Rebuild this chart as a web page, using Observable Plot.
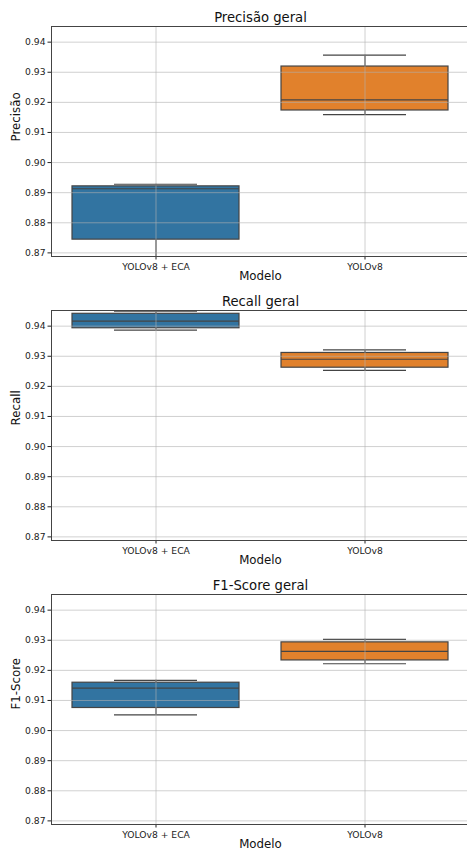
<!DOCTYPE html>
<html>
<head>
<meta charset="utf-8">
<script src="https://cdn.jsdelivr.net/npm/d3@7"></script>
<script src="https://cdn.jsdelivr.net/npm/@observablehq/plot@0.6"></script>
<style>
  html, body { margin: 0; padding: 0; background: white; overflow: hidden; }
  #chart { width: 467px; overflow: hidden; }
  svg { display: block; }
</style>
</head>
<body>
<div id="chart"></div>
<script>
const categories = ["YOLOv8 + ECA", "YOLOv8"];
const colors = ["#3274a1", "#e1812c"];
const yTicks = [0.87, 0.88, 0.89, 0.90, 0.91, 0.92, 0.93, 0.94];
const yDomain = [0.8688, 0.9452];

// [lower whisker, Q1, median, Q3, upper whisker] per model
const precisaoBox = [
  [0.8688, 0.8744, 0.8913, 0.8921, 0.8928],
  [0.9159, 0.9173, 0.9208, 0.9319, 0.9357]
];
const recallBox = [
  [0.9387, 0.9393, 0.9417, 0.9441, 0.9450],
  [0.9253, 0.9262, 0.9290, 0.9311, 0.9321]
];
const f1Box = [
  [0.9052, 0.9075, 0.9141, 0.9159, 0.9167],
  [0.9222, 0.9233, 0.9263, 0.9293, 0.9303]
];

const panels = [
  {title: "Precisão geral", ylabel: "Precisão", box: precisaoBox},
  {title: "Recall geral", ylabel: "Recall", box: recallBox},
  {title: "F1-Score geral", ylabel: "F1-Score", box: f1Box}
];

const edge = "#444444";

function panel({title, ylabel, box}) {
  const data = categories.map((c, i) => ({
    model: c, lo: box[i][0], q1: box[i][1], med: box[i][2], q3: box[i][3], hi: box[i][4]
  }));
  return Plot.plot({
    width: 467,
    height: 284,
    marginTop: 26,
    marginBottom: 28,
    marginLeft: 51,
    marginRight: -2,
    style: {fontFamily: "DejaVu Sans", fontSize: "9.2px", color: "#222", background: "white"},
    x: {domain: categories, paddingInner: 0.2, paddingOuter: 0.1, label: null, tickSize: 3.5, tickPadding: 3},
    y: {domain: yDomain, ticks: yTicks, tickFormat: d3.format(".2f"), label: null, tickSize: 3.5, tickPadding: 2.5},
    color: {domain: categories, range: colors},
    marks: [
      Plot.ruleX(data, {x: "model", y1: "lo", y2: "q1", stroke: edge, strokeWidth: 1.2}),
      Plot.ruleX(data, {x: "model", y1: "q3", y2: "hi", stroke: edge, strokeWidth: 1.2}),
      Plot.tickY(data, {x: "model", y: "lo", insetLeft: 42, insetRight: 42, stroke: edge, strokeWidth: 1.2}),
      Plot.tickY(data, {x: "model", y: "hi", insetLeft: 42, insetRight: 42, stroke: edge, strokeWidth: 1.2}),
      Plot.barY(data, {x: "model", y1: "q1", y2: "q3", fill: "model", stroke: edge, strokeWidth: 1.2}),
      Plot.tickY(data, {x: "model", y: "med", stroke: edge, strokeWidth: 1.2}),
      Plot.ruleY(yTicks, {stroke: "#b0b0b0", strokeOpacity: 0.6}),
      Plot.ruleX(categories, {stroke: "#b0b0b0", strokeOpacity: 0.6}),
      Plot.ruleY(yDomain, {stroke: edge}),
      Plot.frame({anchor: "left", stroke: edge}),
      Plot.text([title], {frameAnchor: "top", lineAnchor: "bottom", dy: -5, fontSize: 13.2, fill: "#111"}),
      Plot.text(["Modelo"], {frameAnchor: "bottom", lineAnchor: "middle", dy: 19.5, fontSize: 11.8, fill: "#111"}),
      Plot.text([ylabel], {frameAnchor: "left", lineAnchor: "middle", dx: -35, rotate: -90, fontSize: 11.8, fill: "#111"})
    ]
  });
}

const root = document.getElementById("chart");
for (const p of panels) root.appendChild(panel(p));
</script>
</body>
</html>
